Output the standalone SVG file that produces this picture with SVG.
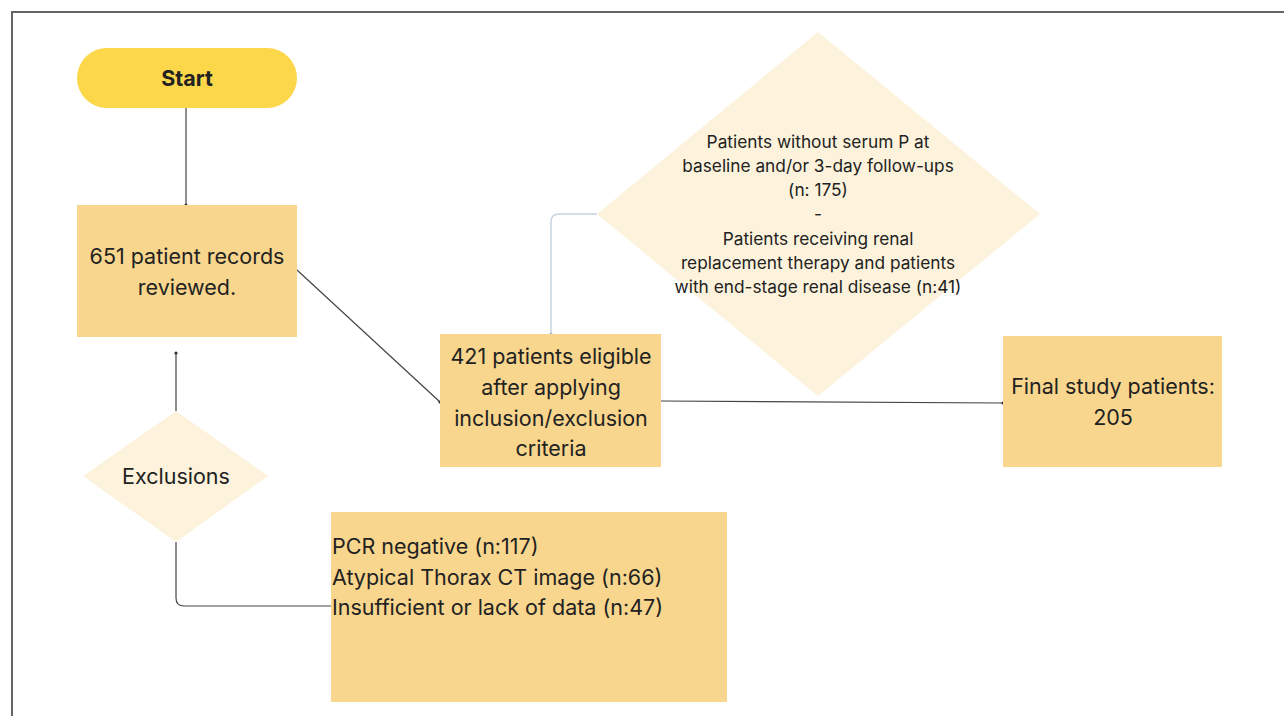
<svg xmlns="http://www.w3.org/2000/svg" width="1284" height="716" viewBox="0 0 1284 716">
<defs>
<marker id="dot" markerWidth="4" markerHeight="4" refX="2" refY="2" markerUnits="userSpaceOnUse"><circle cx="2" cy="2" r="1.6" fill="#333"/></marker>
<marker id="dotl" markerWidth="4" markerHeight="4" refX="2" refY="2" markerUnits="userSpaceOnUse"><circle cx="2" cy="2" r="1.6" fill="#A9B6C6"/></marker>
</defs>
<style>
text{font-family:"Inter","Open Sans","Liberation Sans",sans-serif;fill:#222;}
.box{fill:#F9D68D;}
.dia{fill:#FDF3DC;}
.t{font-size:21.5px;text-anchor:middle;}
.s{font-size:17.3px;text-anchor:middle;}
.l{font-size:21.5px;}
.c{fill:none;stroke:#444;stroke-width:1.2;}
</style>
<rect width="1284" height="716" fill="#fff"/>
<path d="M12,716 V12 H1284" fill="none" stroke="#666" stroke-width="2"/>
<g id="connectors">
<path class="c" d="M186,108 V205" marker-end="url(#dot)"/>
<path class="c" d="M297,270 L440,402" marker-end="url(#dot)"/>
<path d="M597,214 H559 Q551,214 551,222 V334" fill="none" stroke="#C8D2DE" stroke-width="1.5" marker-end="url(#dotl)"/>
<path class="c" d="M661,401 L1003,403" stroke="#666" marker-end="url(#dot)"/>
<path class="c" d="M176,411 V353" stroke="#666" marker-end="url(#dot)"/>
<path class="c" d="M176,542 V598 Q176,606 184,606 H331" stroke="#666"/>
</g>
<g id="start">
<rect x="77" y="48" width="220" height="60" rx="30" fill="#FCD74A"/>
<text x="187" y="86" style="font-size:21.5px;font-weight:bold;text-anchor:middle">Start</text>
</g>
<g id="reviewed">
<rect class="box" x="77" y="205" width="220" height="132"/>
<text class="t" x="187" y="264">651 patient records</text>
<text class="t" x="187" y="295">reviewed.</text>
</g>
<g id="criteria-diamond">
<polygon class="dia" points="818,32 1040,214 818,396 597,214"/>
<text class="s" x="818" y="148">Patients without serum P at</text>
<text class="s" x="818" y="172">baseline and/or 3-day follow-ups</text>
<text class="s" x="818" y="196">(n: 175)</text>
<text class="s" x="818" y="220">-</text>
<text class="s" x="818" y="245">Patients receiving renal</text>
<text class="s" x="818" y="269">replacement therapy and patients</text>
<text class="s" x="818" y="293">with end-stage renal disease (n:41)</text>
</g>
<g id="eligible">
<rect class="box" x="440" y="334" width="221" height="133"/>
<text class="t" x="551" y="364">421 patients eligible</text>
<text class="t" x="551" y="395">after applying</text>
<text class="t" x="551" y="426">inclusion/exclusion</text>
<text class="t" x="551" y="456">criteria</text>
</g>
<g id="final">
<rect class="box" x="1003" y="336" width="219" height="131"/>
<text class="t" x="1113" y="394">Final study patients:</text>
<text class="t" x="1113" y="425">205</text>
</g>
<g id="exclusions">
<polygon class="dia" points="176,411 268,476 176,542 83,476"/>
<text class="t" x="176" y="484">Exclusions</text>
</g>
<g id="exclusion-list">
<rect class="box" x="331" y="512" width="396" height="190"/>
<text class="l" x="332" y="554">PCR negative (n:117)</text>
<text class="l" x="332" y="585">Atypical Thorax CT image (n:66)</text>
<text class="l" x="332" y="615">Insufficient or lack of data (n:47)</text>
</g>
</svg>
